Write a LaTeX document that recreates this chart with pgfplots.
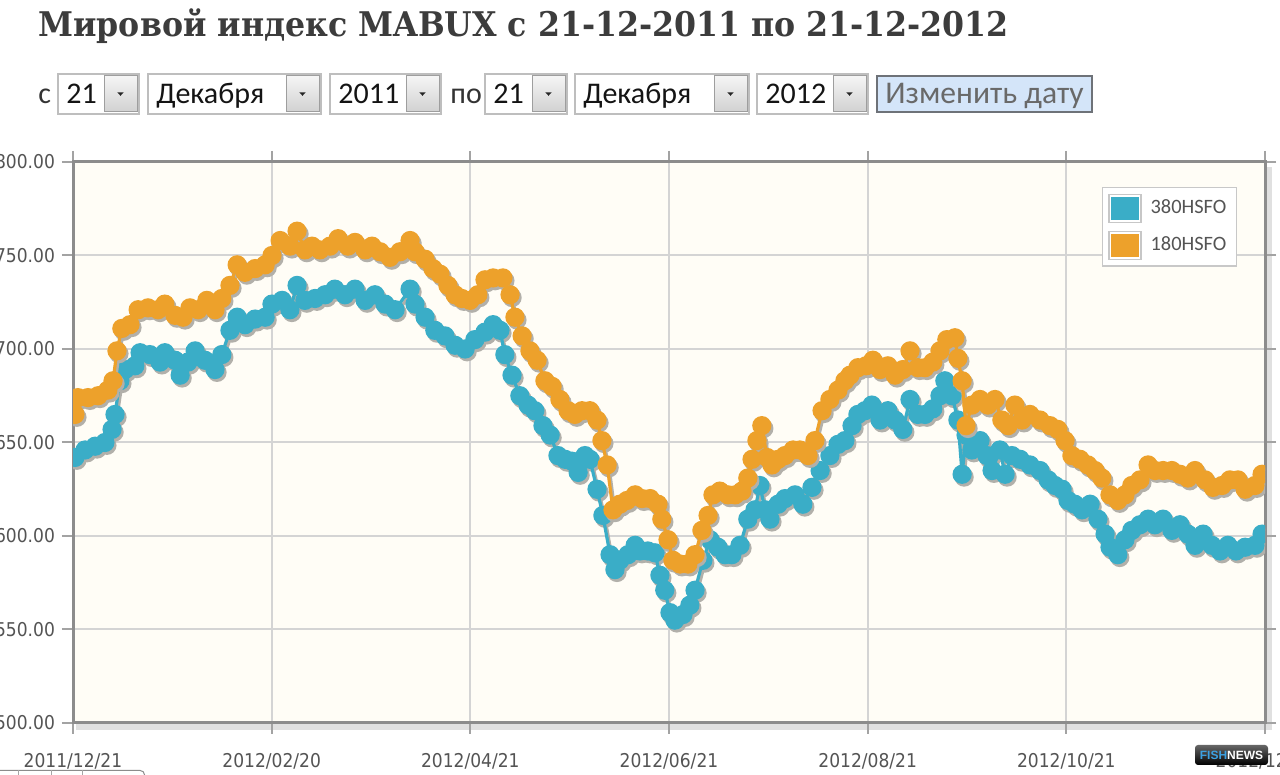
\documentclass[border=0pt]{standalone}
\usepackage{pgfplots}
\pgfplotsset{compat=1.18}
\usepackage{pgfplotstable}
\usepackage{fontspec}
\setmainfont{Carlito}
\newfontfamily\formfont{Carlito}
\newfontfamily\tickfont[FakeStretch=0.9]{DejaVu Sans}
\newfontfamily\titlefont[FakeStretch=0.93]{DejaVu Serif}
\newfontfamily\wmfont{Liberation Sans}

\definecolor{teal380}{RGB}{58,173,199}
\definecolor{orange180}{RGB}{237,161,43}
\definecolor{creambg}{RGB}{255,253,246}
\definecolor{gridgray}{RGB}{212,212,212}
\definecolor{axisgray}{RGB}{140,140,140}
\definecolor{ticktext}{RGB}{84,84,84}
\definecolor{legborder}{RGB}{200,200,200}
\definecolor{shadowc}{RGB}{178,176,170}
\definecolor{titlegray}{RGB}{60,60,60}
\definecolor{boxgray}{RGB}{190,190,190}
\definecolor{btnblue}{RGB}{212,229,249}
\definecolor{btnborder}{RGB}{110,114,120}
\definecolor{btntext}{RGB}{105,105,105}
\definecolor{fishblue}{RGB}{60,160,225}

\pgfplotstableread{
d v
0.6 642
3.7 646
6.8 648
9.8 650
12.0 657
12.9 665
14.4 683
16.0 689
19.0 691
20.6 698
23.6 697
26.7 693
28.2 698
31.3 694
32.9 686
35.3 693
37.5 699
40.5 694
43.6 689
45.7 697
48.2 710
50.4 717
52.8 713
55.9 716
59.0 717
61.1 724
64.2 726
66.6 721
68.8 734
71.2 726
74.3 727
77.4 729
80.4 732
83.5 729
86.6 732
89.7 726
92.7 729
95.8 724
98.9 721
103.5 732
105.0 724
108.1 717
111.1 710
114.2 707
117.3 702
120.4 700
123.4 705
126.5 709
129.0 713
131.1 710
132.6 697
134.8 686
137.2 675
139.7 670
141.8 667
144.3 659
146.5 654
148.9 643
151.1 641
153.2 640
155.1 634
157.2 643
158.7 641
160.9 625
162.7 611
164.9 590
166.4 582
167.9 587
170.4 590
172.6 595
174.1 592
176.5 592
178.7 591
180.2 579
181.7 571
183.3 559
184.8 555
187.3 558
189.4 563
191.0 571
193.4 587
195.6 598
198.0 594
200.2 590
202.3 590
204.8 595
207.2 609
209.4 614
210.9 627
212.5 614
214.0 609
216.5 617
218.6 620
221.7 622
224.1 617
226.9 626
229.4 635
232.4 643
234.9 649
237.0 651
239.2 659
241.0 665
243.2 667
245.3 670
247.8 662
250.2 667
252.4 662
254.8 657
257.0 673
259.4 665
261.6 665
264.0 668
266.2 675
267.7 683
269.9 675
271.7 662
273.0 633
274.2 654
276.0 646
278.5 651
280.6 643
282.2 635
284.6 646
286.2 633
288.3 643
290.8 641
293.8 638
296.9 635
299.4 630
301.5 627
303.7 625
305.5 619
307.6 617
309.8 614
312.3 617
314.7 609
316.9 601
318.4 594
320.8 590
323.0 598
325.1 603
327.6 606
330.1 609
332.2 606
334.7 609
337.4 603
339.9 606
342.3 601
344.5 595
347.0 601
349.7 595
352.2 592
354.6 595
357.1 592
359.9 594
362.9 595
365.1 601
}\tblA

\pgfplotstableread{
d v
0.6 665
1.5 674
4.6 674
7.7 675
10.7 678
12.3 683
13.5 699
15.0 711
17.5 713
20.0 721
23.0 722
26.1 721
28.2 724
31.3 718
33.8 717
35.9 722
38.4 721
41.1 726
43.6 721
45.7 727
48.2 734
50.4 745
52.8 741
55.9 743
59.0 745
61.1 750
63.6 758
66.6 755
68.8 763
71.2 753
73.4 755
75.8 753
78.9 755
81.4 759
84.4 755
86.6 757
89.7 753
91.8 755
94.3 752
97.3 749
100.4 752
103.5 758
105.0 752
108.1 748
110.5 743
112.7 740
115.1 734
117.3 729
119.4 727
121.9 726
124.3 729
126.5 737
129.0 738
132.0 738
134.2 729
135.7 717
137.9 707
140.3 699
142.5 694
144.9 683
147.1 680
149.5 673
152.0 667
154.1 665
156.3 667
158.7 667
160.9 662
162.4 651
164.0 638
165.8 614
167.9 617
170.1 619
172.6 622
174.7 620
177.2 620
179.6 617
180.8 609
182.7 598
184.2 587
186.4 585
188.8 585
191.0 590
193.1 603
195.0 611
196.5 622
198.6 624
201.1 622
203.3 622
205.4 624
207.2 631
208.5 641
210.0 651
211.5 659
213.1 642
214.6 638
216.5 641
218.6 643
221.1 646
223.2 646
225.7 643
227.8 651
230.0 667
232.4 673
234.9 678
237.0 683
238.6 686
241.0 690
243.5 691
245.6 694
247.8 689
250.2 691
252.4 686
254.8 689
257.0 699
259.4 690
261.6 690
264.0 693
266.2 699
268.3 705
270.8 706
271.7 695
273.0 683
274.2 659
276.0 670
278.5 673
280.9 670
283.1 673
285.2 662
287.1 659
289.2 670
291.4 662
293.8 665
296.9 662
300.0 659
302.4 657
304.6 651
306.7 643
309.2 641
311.6 638
313.8 635
315.9 631
318.4 622
320.8 619
323.0 622
325.1 627
327.6 630
330.1 638
332.2 635
334.7 635
337.4 635
339.9 633
342.3 631
344.5 635
347.6 630
350.0 626
352.8 627
355.2 630
357.7 630
359.9 625
362.9 627
365.1 633
}\tblB

% select box: #1 left px, #2 right px, #3 text
\newcommand\selbox[3]{%
  \draw[draw=boxgray, fill=white, line width=0.6pt] (#1*0.5pt,330.5pt) rectangle (#2*0.5pt,350.5pt);
  \shade[top color=white!96!black, bottom color=white!82!black, draw=white!62!black, line width=0.5pt]
     ({(#2-35)*0.5pt},331.5pt) rectangle ({(#2-2)*0.5pt},349.5pt);
  \fill[black!85] ({(#2-18.5)*0.5pt-1.6pt},341.3pt) -- ({(#2-18.5)*0.5pt+1.6pt},341.3pt) -- ({(#2-18.5)*0.5pt},339.6pt) -- cycle;
  \node[anchor=base west, inner sep=0pt, text=black!92, font=\formfont\fontsize{15}{18}\selectfont] at ({(#1+8)*0.5pt},335.5pt) {#3};
}

\begin{document}
\begin{tikzpicture}
\fill[white] (0,0) rectangle (640pt,387.5pt);
% title
\node[anchor=base west, inner sep=0pt, text=titlegray, font=\titlefont\bfseries\fontsize{17}{20}\selectfont] at (19pt,369pt) {Мировой индекс MABUX с 21-12-2011 по 21-12-2012};
% form row
\node[anchor=base west, inner sep=0pt, text=black!80, font=\formfont\fontsize{15}{18}\selectfont] at (19pt,335.5pt) {с};
\selbox{58}{139}{21}
\selbox{148}{321}{Декабря}
\selbox{330}{441}{2011}
\node[anchor=base west, inner sep=0pt, text=black!80, font=\formfont\fontsize{15}{18}\selectfont] at (225pt,335.5pt) {по};
\selbox{485}{567}{21}
\selbox{575}{749}{Декабря}
\selbox{757}{868}{2012}
\draw[fill=btnblue, draw=btnborder, line width=1pt] (438.5pt,331.5pt) rectangle (546pt,349.5pt);
\node[anchor=base, inner sep=0pt, text=btntext, font=\formfont\fontsize{15.8}{18}\selectfont] at (492.25pt,335.5pt) {Изменить дату};
% frame shadows
\fill[black!12] (633.25pt,22.5pt) rectangle (636pt,304pt);
\fill[black!12] (38pt,22.3pt) rectangle (636pt,25.25pt);

\begin{axis}[
  at={(36.5pt,26pt)}, anchor=south west,
  scale only axis, width=596pt, height=280.5pt,
  xmin=0, xmax=366, ymin=500, ymax=800,
  xtick={0,61,122,183,244,305,366},
  xticklabels={2011/12/21,2012/02/20,2012/04/21,2012/06/21,2012/08/21,2012/10/21,2012/12/21},
  ytick={500,550,600,650,700,750,800},
  yticklabels={500.00,550.00,600.00,650.00,700.00,750.00,800.00},
  /pgf/number format/assume math mode=true,
  grid=major, major grid style={draw=gridgray, line width=1pt},
  axis background/.style={fill=creambg},
  axis line style={draw=axisgray, line width=1.5pt},
  tick align=outside, major tick length=5.5pt,
  tick style={draw=axisgray!80, line width=1pt},
  ticklabel style={font=\tickfont\fontsize{9.5}{11}\selectfont, text=ticktext},
  xticklabel style={yshift=-6pt},
  clip marker paths=true,
  legend style={at={(1,1)}, anchor=north east, xshift=-14pt, yshift=-12.5pt,
     draw=legborder, fill=white, line width=0.6pt, inner xsep=3pt, inner ysep=3pt, row sep=4pt,
     font=\formfont\fontsize{10.2}{12}\selectfont, text=ticktext,
     /tikz/every odd column/.append style={column sep=2.5pt}},
  legend cell align=left,
]
\addplot[forget plot, draw=shadowc, line width=1.6pt, mark=*, mark size=4pt, mark options={fill=shadowc, draw=none}, xshift=1pt, yshift=-1.4pt] table {\tblA};
\addplot[forget plot, draw=teal380, line width=1.6pt, mark=*, mark size=4pt, mark options={fill=teal380, draw=none}] table {\tblA};
\addplot[forget plot, draw=shadowc, line width=1.6pt, mark=*, mark size=4pt, mark options={fill=shadowc, draw=none}, xshift=1pt, yshift=-1.4pt] table {\tblB};
\addplot[forget plot, draw=orange180, line width=1.6pt, mark=*, mark size=4pt, mark options={fill=orange180, draw=none}] table {\tblB};
\addlegendimage{legend image code/.code={\draw[draw=black!22, fill=white, line width=0.6pt] (0pt,-7pt) rectangle (16pt,7pt); \fill[teal380] (1.5pt,-5.5pt) rectangle (14.5pt,5.5pt);}}
\addlegendentry{380HSFO}
\addlegendimage{legend image code/.code={\draw[draw=black!22, fill=white, line width=0.6pt] (0pt,-7pt) rectangle (16pt,7pt); \fill[orange180] (1.5pt,-5.5pt) rectangle (14.5pt,5.5pt);}}
\addlegendentry{180HSFO}
\end{axis}

% bottom-left UI fragment
\draw[black!45, line width=0.5pt] (0pt,2.3pt) -- (70pt,2.3pt) arc[start angle=90, end angle=0, radius=2.3pt];
\foreach \xx in {9,25.5,41} {\draw[black!35, line width=0.5pt] (\xx pt,0pt) -- (\xx pt,2.3pt);}
% watermark
\shade[top color=black!60, bottom color=black, rounded corners=1.5pt] (597.5pt,5pt) rectangle (634pt,15pt);
\node[inner sep=0pt, font=\wmfont\bfseries\fontsize{6}{7}\selectfont] at (615.75pt,10pt) {\textcolor{fishblue}{FISH}\textcolor{white}{NEWS}};

\pgfresetboundingbox
\path (0,0) rectangle (640pt,387.5pt);
\end{tikzpicture}
\end{document}
